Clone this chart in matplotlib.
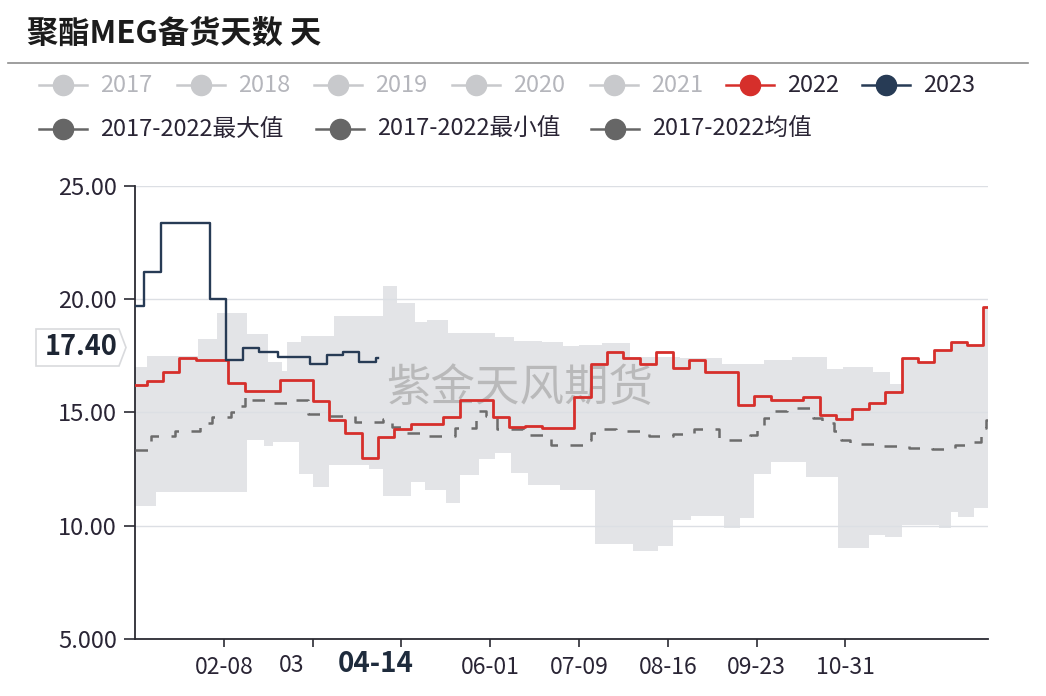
import matplotlib
matplotlib.use('Agg')
import matplotlib.pyplot as plt
from matplotlib.patches import Polygon
import numpy as np
import pandas as pd

plt.rcParams['font.family'] = ['Noto Sans CJK SC', 'DejaVu Sans']

# ---------------- data ----------------
categories = pd.date_range('2020-01-01', '2020-12-31', freq='D').strftime('%m-%d').tolist()
tick_dates = ['02-08', '03-17', '04-24', '06-01', '07-09', '08-16', '09-23', '10-31']
tick_labels = ['02-08', '', '', '06-01', '07-09', '08-16', '09-23', '10-31']
partial_label = '03'   # visible part of the 03-17 label, partly hidden by the pointer label
y_ticks = [5, 10, 15, 20, 25]
y_tick_labels = ['5.000', '10.00', '15.00', '20.00', '25.00']

title = '聚酯MEG备货天数 天'
legend_row1 = ['2017', '2018', '2019', '2020', '2021', '2022', '2023']
legend_row2 = ['2017-2022最大值', '2017-2022最小值', '2017-2022均值']
watermark = '紫金天风期货'

dates_2022 = ['01-01', '01-06', '01-13', '01-20', '01-27', '02-03', '02-10', '02-17', '02-24',
              '03-03', '03-10', '03-17', '03-24', '03-31', '04-07', '04-14', '04-21', '04-28',
              '05-05', '05-12', '05-19', '05-26', '06-02', '06-09', '06-16', '06-23', '06-30',
              '07-07', '07-14', '07-21', '07-28', '08-04', '08-11', '08-18', '08-25', '09-01',
              '09-08', '09-15', '09-22', '09-29', '10-06', '10-13', '10-20', '10-27', '11-03',
              '11-10', '11-17', '11-24', '12-01', '12-08', '12-15', '12-22', '12-29', '12-31']
vals_2022 = [16.2, 16.4, 16.8, 17.4, 17.3, 17.3, 16.3, 15.95, 15.95,
             16.45, 16.45, 15.5, 14.65, 14.1, 13.0, 13.9, 14.25, 14.5,
             14.5, 14.8, 15.55, 15.55, 14.8, 14.35, 14.4, 14.3, 14.3,
             15.7, 17.13, 17.66, 17.4, 17.15, 17.66, 16.95, 17.33, 16.8,
             16.8, 15.35, 15.72, 15.55, 15.55, 15.7, 14.9, 14.7, 15.15,
             15.4, 15.9, 17.4, 17.25, 17.77, 18.1, 17.97, 19.65, 19.65]

dates_2023 = ['01-01', '01-05', '01-12', '01-19', '01-26', '02-02', '02-09', '02-16', '02-23',
              '03-02', '03-09', '03-16', '03-23', '03-30', '04-06', '04-13', '04-14']
vals_2023 = [19.7, 21.2, 23.35, 23.35, 23.35, 20.0, 17.3, 17.85, 17.65,
             17.45, 17.45, 17.15, 17.55, 17.65, 17.22, 17.4, 17.4]

max_dates = ['01-01', '01-06', '01-28', '02-05', '02-18', '02-27', '03-04', '03-06', '03-12',
             '03-26', '04-16', '04-22', '04-30', '05-05', '05-14', '06-03', '06-11', '06-23',
             '07-02', '07-09', '07-19', '07-31', '08-21', '09-08', '09-26', '10-08', '10-23',
             '10-30', '11-12', '11-19', '11-24', '12-01', '12-08', '12-15', '12-22', '12-29', '12-31']
max_vals = [17.0, 17.48, 18.25, 19.4, 18.45, 17.25, 16.85, 18.1, 18.37,
            19.25, 20.6, 19.85, 19.0, 19.1, 18.53, 18.35, 18.15, 18.13,
            17.95, 18.0, 18.05, 17.44, 17.4, 17.13, 17.3, 17.45, 16.92,
            17.02, 16.8, 16.25, 17.4, 17.25, 17.77, 18.1, 17.97, 19.65, 19.65]

min_dates = ['01-01', '01-10', '02-18', '02-25', '02-29', '03-11', '03-17', '03-24', '04-10',
             '04-16', '04-28', '05-04', '05-13', '05-19', '05-27', '06-03', '06-10', '06-17',
             '07-01', '07-16', '08-01', '08-12', '08-18', '08-26', '09-09', '09-16', '09-22',
             '09-29', '10-14', '10-28', '11-10', '11-17', '11-24', '12-10', '12-15', '12-18',
             '12-25', '12-31']
min_vals = [10.87, 11.5, 13.8, 13.5, 13.7, 12.3, 11.7, 12.7, 12.5,
            11.3, 11.95, 11.6, 11.0, 12.25, 12.95, 13.2, 12.35, 11.8,
            11.6, 9.2, 8.9, 9.1, 10.25, 10.42, 9.9, 10.35, 12.3,
            12.8, 12.15, 9.0, 9.6, 9.5, 10.05, 9.88, 10.6, 10.4,
            10.8, 10.8]

mean_dates = ['01-01', '01-08', '01-18', '01-29', '02-03', '02-11', '02-14', '02-17', '02-20',
              '02-27', '03-07', '03-15', '03-23', '04-04', '04-16', '04-20', '04-24', '05-05',
              '05-17', '05-26', '05-30', '06-04', '06-15', '06-27', '07-12', '07-14', '07-17',
              '07-25', '08-08', '08-18', '08-27', '09-07', '09-20', '09-23', '09-26', '09-29',
              '10-06', '10-17', '10-21', '10-26', '10-29', '11-02', '11-16', '11-27', '12-07',
              '12-17', '12-23', '12-28', '12-30', '12-31']
mean_vals = [13.35, 13.95, 14.2, 14.55, 14.8, 15.0, 15.3, 15.75, 15.55,
             15.4, 15.55, 14.95, 14.85, 14.6, 14.7, 14.35, 14.1, 13.95,
             14.3, 15.05, 14.85, 14.25, 14.0, 13.55, 13.8, 14.1, 14.25,
             14.2, 13.95, 14.05, 14.25, 13.8, 14.0, 14.3, 14.75, 15.05,
             15.2, 14.75, 14.55, 14.2, 13.8, 13.6, 13.5, 13.45, 13.4,
             13.55, 13.7, 14.3, 14.65, 14.65]

pointer_date = '04-14'
pointer_value = 17.40

# ---------------- styles ----------------
C_RED = '#d62f2b'
C_NAVY = '#273b55'
C_BAND = '#e3e4e7'
C_MEAN = '#6c6c6c'
C_GRAYLEG = '#c8c9cc'
C_GRAYTXT = '#b5b6bc'
C_DARKLEG = '#666666'
C_TXT = '#2a2535'

W, H = 1046, 696
fig = plt.figure(figsize=(W / 100, H / 100), dpi=100)
fig.patch.set_facecolor('white')

L, R, T, B = 135, 988, 186, 639
ax = fig.add_axes([L / W, 1 - B / H, (R - L) / W, (B - T) / H])

pos = {d: i for i, d in enumerate(categories)}
def xs(dates):
    return np.array([pos[d] for d in dates])

# band between min and max
xmax, xmin = xs(max_dates), xs(min_dates)
ux = np.array(sorted(set(xmax) | set(xmin)))
top = np.array(max_vals)[np.searchsorted(xmax, ux, side='right') - 1]
bot = np.array(min_vals)[np.searchsorted(xmin, ux, side='right') - 1]
ax.fill_between(ux, bot, top, step='post', color=C_BAND, lw=0, zorder=1)

ax.step(xs(mean_dates), mean_vals, where='post', color=C_MEAN, lw=1.8,
        dashes=(5, 5), zorder=3)
ax.step(xs(dates_2022), vals_2022, where='post', color=C_RED, lw=2.0, zorder=4)
ax.step(xs(dates_2023), vals_2023, where='post', color=C_NAVY, lw=1.7, zorder=5)

ax.set_xlim(0, len(categories) - 1)
ax.set_ylim(5, 25)
ax.set_yticks(y_ticks)
ax.set_yticklabels(y_tick_labels)
ax.set_xticks(xs(tick_dates))
ax.set_xticklabels(tick_labels)
ax.set_axisbelow('line')
ax.grid(axis='y', color='#dcdfe4', lw=1.0)
ax.grid(axis='x', visible=False)
for s in ['top', 'right']:
    ax.spines[s].set_visible(False)
for s in ['left', 'bottom']:
    ax.spines[s].set_color('#2b2b33')
    ax.spines[s].set_linewidth(1.3)
ax.tick_params(axis='y', length=8, width=1.2, color='#2b2b33', labelsize=17,
               labelcolor=C_TXT, pad=5)
ax.tick_params(axis='x', length=6, width=1.2, color='#2b2b33', labelsize=16.5,
               labelcolor=C_TXT, pad=6)
ax.patch.set_alpha(0)

# overlay in pixel coordinates
ov = fig.add_axes([0, 0, 1, 1])
ov.set_xlim(0, W)
ov.set_ylim(H, 0)
ov.axis('off')
ov.patch.set_alpha(0)

# watermark (inside main axes, under the lines)
ax.text(520, 388, watermark, transform=ov.transData, ha='center', va='center',
        fontsize=32, color='#a8a8a8', alpha=0.7, fontweight='light', zorder=2.5,
        clip_on=False)

# title and separator
ov.text(27, 34, title, fontsize=22.5, fontweight='bold', color='#1c1c1c',
        ha='left', va='center')
ov.plot([8, 1028], [63, 63], color='#8e8e8e', lw=1.2)

# legend
row1_x = [63, 201, 338, 476, 614, 750, 886]
row1_colors = [C_GRAYLEG] * 5 + [C_RED, C_NAVY]
row1_txt = [C_GRAYTXT] * 5 + [C_TXT, C_TXT]
for cx, name, c, tc in zip(row1_x, legend_row1, row1_colors, row1_txt):
    ov.plot([cx - 24, cx + 24], [85, 85], color=c, lw=1.8)
    ov.plot([cx], [85], marker='o', ms=14.5, color=c, mec=c)
    ov.text(cx + 37, 85, name, fontsize=17, color=tc, ha='left', va='center')
row2_x = [63, 340, 615]
for cx, name in zip(row2_x, legend_row2):
    ov.plot([cx - 24, cx + 24], [129, 129], color=C_DARKLEG, lw=1.8)
    ov.plot([cx], [129], marker='o', ms=14.5, color=C_DARKLEG, mec=C_DARKLEG)
    ov.text(cx + 37, 129, name, fontsize=17, color=C_TXT, ha='left', va='center')

# partly hidden x tick label and axis pointer label
ov.text(279, 666, partial_label, fontsize=16.5, color=C_TXT, ha='left', va='center')
ov.text(376, 664, pointer_date, fontsize=20, fontweight='bold', color='#1e2b3c',
        ha='center', va='center')

# axis pointer label on y axis
ov.add_patch(Polygon([(36, 329), (119, 329), (126, 347.5), (119, 366), (36, 366)],
                     closed=True, facecolor='white', edgecolor='#d9dadd', lw=1.2))
ov.text(81, 347, f'{pointer_value:.2f}', fontsize=19.5, fontweight='semibold',
        color='#1d2533', ha='center', va='center')

fig.savefig('out.png', dpi=100)
